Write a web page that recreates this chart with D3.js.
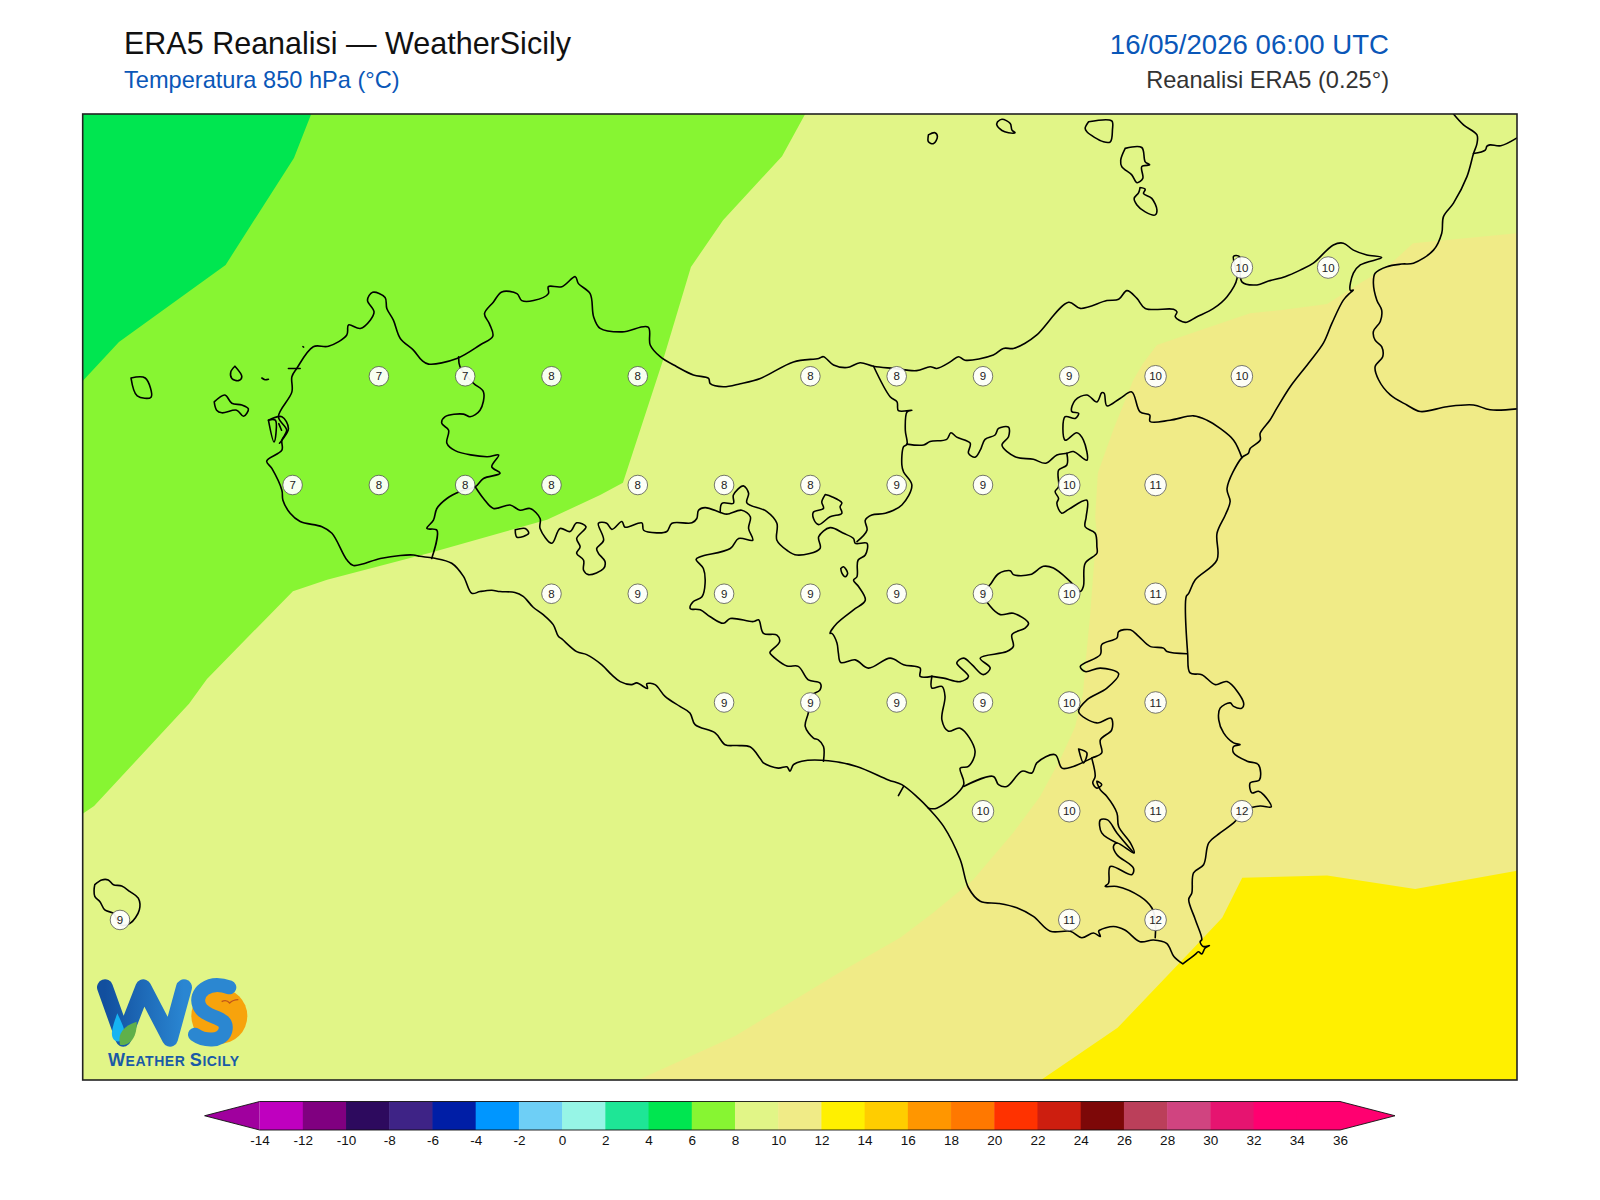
<!DOCTYPE html>
<html><head><meta charset="utf-8">
<script src="https://cdn.jsdelivr.net/npm/d3@7"></script>
<style>html,body{margin:0;padding:0;background:#fff}svg{display:block}text{font-family:"Liberation Sans",Arial,sans-serif}</style>
</head><body><svg id="c" width="1600" height="1200"></svg>
<script>
// ---- Texts
const titleMain="ERA5 Reanalisi — WeatherSicily", titleSub="Temperatura 850 hPa (°C)", titleDate="16/05/2026 06:00 UTC", titleRight="Reanalisi ERA5 (0.25°)";
// ---- Colour scale
const levels=[-14,-12,-10,-8,-6,-4,-2,0,2,4,6,8,10,12,14,16,18,20,22,24,26,28,30,32,34,36];
const levelColors=["#bf00bf","#800080","#2d0a5e","#3e2386","#001ea6","#0096ff","#6ecff6","#96f5e6","#1ee696","#00e650","#87f532","#e1f587","#f0eb87","#fff000","#ffcd00","#ff9600","#ff7800","#ff3200","#cd1e0f","#7d0808","#bb3f5a","#d04480","#e61470","#ff0070","#ff0070"];
const underColor="#a0009e", overColor="#ff0070";
// ---- Map extent (degrees)
const lonRange=[11.892,16.047], latRange=[38.603,36.382];
// ---- Point values
const row3825=[[15.25,10],[15.5,10]];
const row3800=[[12.75,7],[13,7],[13.25,8],[13.5,8],[14,8],[14.25,8],[14.5,9],[14.75,9],[15,10],[15.25,10]];
const row3775=[[12.5,7],[12.75,8],[13,8],[13.25,8],[13.5,8],[13.75,8],[14,8],[14.25,9],[14.5,9],[14.75,10],[15,11]];
const row3750=[[13.25,8],[13.5,9],[13.75,9],[14,9],[14.25,9],[14.5,9],[14.75,10],[15,11]];
const row3725=[[13.75,9],[14,9],[14.25,9],[14.5,9],[14.75,10],[15,11]];
const row3700=[[14.5,10],[14.75,10],[15,11],[15.25,12]];
const row3675=[[12,9],[14.75,11],[15,12]];
const pointRows=[[38.25,row3825],[38,row3800],[37.75,row3775],[37.5,row3750],[37.25,row3725],[37,row3700],[36.75,row3675]];
// ---- Isotherms (lon,lat)
const iso6=[[12.554,38.603],[12.504,38.502],[12.306,38.256],[11.997,38.079],[11.892,37.989]];
const iso8=[[13.985,38.603],[13.918,38.506],[13.747,38.359],[13.654,38.251],[13.573,38.037],[13.457,37.755],[13.391,37.727],[13.237,37.670],[12.907,37.596],[12.600,37.532],[12.501,37.506],[12.252,37.304],[12.200,37.247],[11.925,37.012],[11.892,36.994]];
const iso10=[[16.047,38.329],[15.746,38.306],[15.671,38.251],[15.592,38.214],[15.514,38.175],[15.497,38.166],[15.361,38.152],[15.274,38.145],[15.129,38.106],[15.004,38.072],[14.964,38.030],[14.935,37.991],[14.877,37.876],[14.833,37.778],[14.825,37.676],[14.830,37.640],[14.825,37.601],[14.810,37.447],[14.796,37.332],[14.790,37.272],[14.767,37.194],[14.723,37.118],[14.665,37.033],[14.587,36.950],[14.471,36.842],[14.355,36.766],[14.260,36.709],[14.077,36.626],[13.782,36.483],[13.501,36.382]];
const iso12=[[16.047,36.863],[15.752,36.821],[15.497,36.852],[15.251,36.847],[15.193,36.755],[15.105,36.681],[14.890,36.502],[14.668,36.382]];
// ---- Sicily coastline (lon,lat)
const coastSicily=[[15.079,36.649],[15.053,36.666],[15.032,36.696],[14.994,36.704],[14.955,36.700],[14.911,36.727],[14.878,36.735],[14.839,36.727],[14.835,36.724],[14.840,36.712],[14.820,36.720],[14.786,36.709],[14.753,36.724],[14.695,36.724],[14.646,36.758],[14.598,36.778],[14.545,36.788],[14.492,36.793],[14.458,36.824],[14.434,36.889],[14.386,36.965],[14.342,37.007],[14.313,37.030],[14.265,37.061],[14.226,37.072],[14.134,37.103],[14.052,37.116],[13.975,37.115],[13.951,37.107],[13.941,37.092],[13.932,37.102],[13.907,37.099],[13.864,37.111],[13.854,37.122],[13.825,37.148],[13.787,37.151],[13.753,37.153],[13.724,37.180],[13.666,37.199],[13.651,37.226],[13.622,37.241],[13.579,37.264],[13.550,37.291],[13.526,37.293],[13.528,37.282],[13.497,37.295],[13.482,37.291],[13.449,37.298],[13.424,37.314],[13.395,37.337],[13.352,37.360],[13.323,37.367],[13.280,37.396],[13.270,37.402],[13.255,37.429],[13.226,37.452],[13.197,37.469],[13.168,37.494],[13.144,37.503],[13.101,37.505],[13.077,37.508],[13.043,37.505],[13.019,37.501],[12.995,37.540],[12.961,37.570],[12.908,37.582],[12.869,37.586],[12.850,37.589],[12.812,37.588],[12.754,37.581],[12.676,37.565],[12.657,37.578],[12.614,37.639],[12.585,37.654],[12.522,37.666],[12.493,37.685],[12.472,37.715],[12.469,37.738],[12.440,37.788],[12.425,37.805],[12.469,37.830],[12.469,37.853],[12.483,37.876],[12.459,37.907],[12.498,37.964],[12.498,37.999],[12.512,38.018],[12.560,38.068],[12.604,38.069],[12.657,38.095],[12.662,38.118],[12.696,38.110],[12.725,38.129],[12.736,38.148],[12.717,38.175],[12.732,38.193],[12.768,38.181],[12.773,38.156],[12.792,38.129],[12.812,38.087],[12.850,38.060],[12.874,38.037],[12.894,38.028],[12.976,38.041],[13.043,38.072],[13.080,38.092],[13.070,38.121],[13.056,38.144],[13.082,38.171],[13.106,38.194],[13.150,38.190],[13.164,38.174],[13.198,38.174],[13.241,38.190],[13.241,38.206],[13.280,38.206],[13.319,38.229],[13.328,38.213],[13.362,38.190],[13.372,38.137],[13.391,38.110],[13.455,38.102],[13.530,38.113],[13.536,38.072],[13.565,38.045],[13.613,38.022],[13.661,38.003],[13.705,37.995],[13.710,37.983],[13.748,37.976],[13.797,37.983],[13.855,37.995],[13.951,38.033],[14.024,38.041],[14.038,38.045],[14.067,38.026],[14.106,38.020],[14.144,38.031],[14.183,38.023],[14.241,38.018],[14.308,38.013],[14.347,38.022],[14.366,38.018],[14.405,38.033],[14.429,38.045],[14.448,38.037],[14.530,38.049],[14.559,38.064],[14.588,38.064],[14.622,38.076],[14.656,38.095],[14.748,38.170],[14.782,38.156],[14.859,38.174],[14.893,38.177],[14.917,38.197],[14.946,38.179],[14.970,38.156],[15.052,38.154],[15.062,38.148],[15.057,38.137],[15.086,38.124],[15.120,38.137],[15.168,38.156],[15.207,38.183],[15.236,38.225],[15.226,38.276],[15.243,38.275],[15.250,38.217],[15.294,38.210],[15.327,38.219],[15.375,38.229],[15.419,38.244],[15.457,38.260],[15.515,38.302],[15.544,38.306],[15.573,38.290],[15.612,38.279],[15.655,38.273],[15.593,38.256],[15.573,38.237],[15.564,38.198],[15.573,38.198],[15.564,38.192],[15.544,38.175],[15.511,38.122],[15.486,38.076],[15.443,38.030],[15.390,37.976],[15.351,37.926],[15.332,37.900],[15.303,37.869],[15.303,37.853],[15.274,37.834],[15.269,37.823],[15.250,37.813],[15.207,37.742],[15.216,37.712],[15.202,37.681],[15.178,37.639],[15.178,37.578],[15.115,37.532],[15.096,37.501],[15.089,37.494],[15.093,37.362],[15.100,37.318],[15.134,37.314],[15.173,37.291],[15.207,37.298],[15.255,37.249],[15.250,37.237],[15.226,37.241],[15.216,37.249],[15.187,37.237],[15.183,37.210],[15.197,37.180],[15.226,37.157],[15.245,37.153],[15.226,37.149],[15.226,37.134],[15.265,37.115],[15.298,37.107],[15.301,37.072],[15.274,37.065],[15.279,37.042],[15.298,37.046],[15.314,37.037],[15.335,37.010],[15.303,37.012],[15.265,37.004],[15.226,36.973],[15.187,36.950],[15.154,36.927],[15.139,36.877],[15.110,36.858],[15.105,36.812],[15.096,36.797],[15.115,36.751],[15.134,36.705],[15.129,36.700],[15.138,36.689],[15.156,36.691],[15.143,36.685],[15.134,36.672],[15.124,36.677],[15.114,36.670],[15.079,36.649]];
const coastCalabria=[[15.863,38.603],[15.892,38.578],[15.931,38.555],[15.931,38.535],[15.921,38.512],[15.902,38.459],[15.863,38.398],[15.834,38.367],[15.829,38.329],[15.805,38.290],[15.747,38.260],[15.713,38.258],[15.670,38.252],[15.636,38.237],[15.631,38.214],[15.641,38.175],[15.655,38.152],[15.651,38.126],[15.631,38.103],[15.636,38.083],[15.655,38.068],[15.658,38.045],[15.636,38.022],[15.646,37.992],[15.680,37.957],[15.728,37.934],[15.767,37.919],[15.844,37.930],[15.921,37.934],[15.969,37.923],[16.047,37.925]];
const borderCalabria=[[15.921,38.512],[15.955,38.520],[15.960,38.529],[15.969,38.532],[16.000,38.530],[16.047,38.548]];
// ---- Province borders (lon,lat)
const borderTrapani=[[12.981,38.045],[12.985,38.022],[13.024,37.984],[13.053,37.964],[13.043,37.922],[13.014,37.907],[12.995,37.913],[12.942,37.907],[12.932,37.892],[12.952,37.876],[12.947,37.846],[12.971,37.829],[13.063,37.815],[13.097,37.819],[13.077,37.792],[13.101,37.777],[13.053,37.765],[13.029,37.746],[12.985,37.735],[12.947,37.719],[12.918,37.696],[12.908,37.669],[12.889,37.650],[12.918,37.646],[12.903,37.581]];
const borderAgrigento=[[13.029,37.746],[13.053,37.719],[13.082,37.696],[13.130,37.704],[13.159,37.692],[13.188,37.696],[13.217,37.673],[13.217,37.650],[13.251,37.616],[13.275,37.650],[13.304,37.643],[13.323,37.663],[13.350,37.654],[13.323,37.627],[13.333,37.608],[13.323,37.593],[13.343,37.577],[13.343,37.554],[13.357,37.544],[13.401,37.558],[13.405,37.574],[13.386,37.593],[13.381,37.604],[13.401,37.623],[13.386,37.662],[13.410,37.662],[13.425,37.648],[13.454,37.666],[13.463,37.653],[13.512,37.663],[13.517,37.646],[13.555,37.640],[13.584,37.643],[13.599,37.662],[13.657,37.663],[13.671,37.673],[13.676,37.692],[13.695,37.698],[13.739,37.687],[13.758,37.683],[13.801,37.692],[13.826,37.677],[13.821,37.650],[13.833,37.623],[13.792,37.627],[13.768,37.604],[13.681,37.585],[13.669,37.579],[13.690,37.558],[13.695,37.524],[13.686,37.493],[13.661,37.482],[13.652,37.466],[13.681,37.463],[13.710,37.447],[13.748,37.432],[13.768,37.443],[13.835,37.436],[13.850,37.440],[13.864,37.409],[13.903,37.405],[13.911,37.390],[13.884,37.367],[13.883,37.364],[13.932,37.334],[13.965,37.333],[13.994,37.302],[14.028,37.295],[14.028,37.279],[13.999,37.264],[13.994,37.226],[13.985,37.195],[14.009,37.168],[14.023,37.164],[14.038,37.149],[14.038,37.115]];
const borderCaltanissetta=[[13.739,37.687],[13.744,37.708],[13.777,37.708],[13.777,37.727],[13.806,37.748],[13.821,37.731],[13.816,37.709],[13.874,37.689],[13.903,37.662],[13.903,37.623],[13.932,37.600],[13.961,37.589],[14.028,37.604],[14.024,37.631],[14.057,37.652],[14.096,37.639],[14.125,37.627],[14.130,37.616],[14.164,37.616],[14.159,37.589],[14.138,37.577],[14.135,37.539],[14.125,37.531],[14.140,37.516],[14.159,37.485],[14.125,37.463],[14.077,37.432],[14.057,37.409],[14.062,37.409],[14.077,37.387],[14.081,37.364],[14.088,37.342],[14.130,37.348],[14.168,37.329],[14.231,37.352],[14.270,37.337],[14.318,37.329],[14.318,37.310],[14.352,37.310]];
const borderMessinaWest=[[14.135,37.620],[14.164,37.646],[14.159,37.669],[14.178,37.681],[14.217,37.685],[14.265,37.704],[14.294,37.750],[14.270,37.780],[14.265,37.796],[14.270,37.838],[14.280,37.844],[14.275,37.876],[14.280,37.918],[14.294,37.922],[14.255,37.921],[14.251,37.941],[14.231,37.953],[14.183,38.023]];
const borderMessinaSouth=[[14.279,37.844],[14.328,37.842],[14.347,37.850],[14.395,37.855],[14.407,37.870],[14.424,37.860],[14.463,37.846],[14.458,37.823],[14.477,37.814],[14.492,37.830],[14.506,37.855],[14.535,37.865],[14.545,37.880],[14.574,37.883],[14.574,37.861],[14.555,37.842],[14.593,37.815],[14.646,37.809],[14.682,37.800],[14.714,37.819],[14.743,37.823],[14.762,37.827],[14.801,37.807],[14.791,37.853],[14.772,37.870],[14.738,37.853],[14.738,37.907],[14.767,37.903],[14.777,37.915],[14.757,37.919],[14.767,37.945],[14.801,37.957],[14.830,37.941],[14.844,37.962],[14.851,37.961],[14.859,37.932],[14.897,37.949],[14.931,37.964],[14.955,37.918],[14.983,37.911],[14.984,37.896],[15.042,37.899],[15.110,37.909],[15.149,37.899],[15.187,37.880],[15.226,37.853],[15.250,37.813]];
const borderEnna=[[14.743,37.823],[14.743,37.796],[14.719,37.784],[14.719,37.746],[14.709,37.735],[14.719,37.719],[14.714,37.708],[14.728,37.685],[14.748,37.694],[14.801,37.715],[14.799,37.677],[14.796,37.654],[14.825,37.639],[14.830,37.608],[14.830,37.593],[14.796,37.570],[14.791,37.517],[14.782,37.505],[14.753,37.528],[14.704,37.559],[14.675,37.563],[14.637,37.544],[14.588,37.544],[14.579,37.553],[14.545,37.546],[14.521,37.521],[14.501,37.501],[14.521,37.471],[14.550,37.452],[14.588,37.455],[14.632,37.432],[14.622,37.421],[14.584,37.406],[14.588,37.379],[14.569,37.367],[14.492,37.352],[14.521,37.329],[14.501,37.314],[14.468,37.337],[14.444,37.352],[14.424,37.341],[14.458,37.310],[14.434,37.298],[14.386,37.306],[14.352,37.310]];
const borderGela=[[14.352,37.310],[14.352,37.283],[14.381,37.287],[14.390,37.264],[14.381,37.210],[14.400,37.184],[14.434,37.191],[14.477,37.138],[14.458,37.103],[14.434,37.099],[14.444,37.061],[14.366,37.007],[14.342,37.007]];
const borderCatania=[[14.444,37.057],[14.530,37.080],[14.545,37.061],[14.569,37.057],[14.613,37.092],[14.642,37.088],[14.656,37.111],[14.709,37.130],[14.729,37.099],[14.762,37.103],[14.815,37.122],[14.844,37.134],[14.840,37.164],[14.873,37.187],[14.871,37.214],[14.830,37.203],[14.777,37.229],[14.801,37.256],[14.859,37.283],[14.893,37.316],[14.840,37.329],[14.796,37.321],[14.782,37.333],[14.840,37.360],[14.844,37.383],[14.888,37.398],[14.893,37.413],[14.927,37.417],[14.951,37.402],[14.984,37.379],[15.023,37.375],[15.033,37.367],[15.091,37.362]];
const borderSiracusa=[[14.815,37.122],[14.825,37.080],[14.818,37.065],[14.830,37.053],[14.844,37.061],[14.830,37.069],[14.840,37.049],[14.859,37.034],[14.888,36.996],[14.893,36.965],[14.927,36.927],[14.938,36.904],[14.888,36.927],[14.878,36.919],[14.888,36.900],[14.936,36.869],[14.931,36.854],[14.869,36.873],[14.864,36.835],[14.854,36.827],[14.888,36.827],[14.955,36.804],[14.989,36.778],[14.999,36.751],[14.999,36.709]];
const loopIrminio=[[14.888,36.927],[14.844,36.950],[14.840,36.980],[14.861,36.980],[14.888,36.950],[14.936,36.905]];
const lakeLentini=[[14.777,37.143],[14.801,37.134],[14.791,37.111],[14.777,37.143]];
const spurGela=[[14.270,37.057],[14.255,37.036]];
// ---- Islands and enclosed shapes (lon,lat)
const isleAlicudi=[[14.342,38.555],[14.361,38.560],[14.368,38.551],[14.357,38.535],[14.342,38.539],[14.342,38.555]];
const isleFilicudi=[[14.542,38.585],[14.555,38.591],[14.579,38.581],[14.584,38.566],[14.593,38.560],[14.574,38.560],[14.555,38.565],[14.540,38.578],[14.542,38.585]];
const isleSalina=[[14.806,38.585],[14.873,38.587],[14.875,38.566],[14.869,38.539],[14.849,38.539],[14.801,38.562],[14.796,38.570],[14.806,38.585]];
const isleLipari=[[14.912,38.524],[14.960,38.526],[14.970,38.493],[14.983,38.486],[14.960,38.482],[14.963,38.455],[14.946,38.445],[14.931,38.463],[14.902,38.482],[14.899,38.497],[14.912,38.524]];
const isleVulcano=[[14.955,38.434],[14.970,38.430],[14.965,38.420],[14.989,38.409],[15.004,38.382],[14.999,38.371],[14.970,38.378],[14.946,38.394],[14.938,38.409],[14.951,38.422],[14.955,38.434]];
const isleLevanzo=[[12.333,38.023],[12.353,37.999],[12.343,37.990],[12.324,37.995],[12.321,38.010],[12.333,38.023]];
const isleFavignana=[[12.273,37.941],[12.304,37.957],[12.324,37.938],[12.353,37.934],[12.372,37.925],[12.358,37.908],[12.338,37.922],[12.295,37.916],[12.280,37.922],[12.273,37.941]];
const isleMarettimo=[[12.032,37.996],[12.073,37.996],[12.090,37.952],[12.050,37.955],[12.032,37.996]];
const isleFormica=[[12.411,37.996],[12.420,37.992],[12.430,37.993]];
const isleStagnone=[[12.430,37.899],[12.469,37.907],[12.488,37.880],[12.469,37.853],[12.462,37.846]];
const isleGrande=[[12.430,37.899],[12.446,37.849],[12.452,37.870],[12.450,37.899],[12.430,37.899]];
const stagnoneInner=[[12.460,37.891],[12.468,37.876]];
const reefTrapani=[[12.488,38.018],[12.522,38.018]];
const isletCofano=[[12.530,38.068],[12.532,38.067]];
const lakeArancio=[[13.145,37.647],[13.174,37.650],[13.184,37.639],[13.150,37.630],[13.145,37.647]];
const enclaveMadonie=[[14.043,37.728],[14.062,37.723],[14.091,37.709],[14.086,37.700],[14.091,37.685],[14.057,37.677],[14.024,37.659],[14.009,37.673],[14.009,37.688],[14.038,37.696],[14.033,37.711],[14.043,37.728]];
const lakePergusa=[[14.088,37.558],[14.096,37.562],[14.108,37.547],[14.101,37.539],[14.091,37.548],[14.088,37.558]];
const islePantelleria=[[11.927,36.831],[11.947,36.842],[11.966,36.842],[11.981,36.831],[12.005,36.828],[12.029,36.815],[12.053,36.800],[12.056,36.773],[12.029,36.742],[12.000,36.739],[11.981,36.765],[11.956,36.773],[11.942,36.792],[11.927,36.804],[11.925,36.819],[11.927,36.831]];
const mapLines=[coastSicily,coastCalabria,borderCalabria,borderTrapani,borderAgrigento,borderCaltanissetta,borderMessinaWest,borderMessinaSouth,borderEnna,borderGela,borderCatania,borderSiracusa,loopIrminio,lakeLentini,spurGela,isleAlicudi,isleFilicudi,isleSalina,isleLipari,isleVulcano,isleLevanzo,isleFavignana,isleMarettimo,isleFormica,isleStagnone,isleGrande,stagnoneInner,reefTrapani,isletCofano,lakeArancio,enclaveMadonie,lakePergusa,islePantelleria];

// ---- Drawing
const svg=d3.select("#c");
const frame={l:82.7,r:1517,t:114,b:1080};
const x=d3.scaleLinear().domain(lonRange).range([frame.l,frame.r]);
const y=d3.scaleLinear().domain(latRange).range([frame.t,frame.b]);
const geo=d3.line().x(d=>x(d[0])).y(d=>y(d[1]));
const geoSmooth=d3.line().x(d=>x(d[0])).y(d=>y(d[1])).curve(d3.curveCatmullRom.alpha(0.5));
const colorOf=d3.scaleThreshold().domain(levels.slice(1,-1)).range(levelColors);
const [W,E]=lonRange,[N,S]=latRange;

svg.append("defs").append("clipPath").attr("id","map").append("rect")
  .attr("x",frame.l).attr("y",frame.t).attr("width",frame.r-frame.l).attr("height",frame.b-frame.t);
const map=svg.append("g").attr("clip-path","url(#map)");
map.append("rect").attr("x",frame.l).attr("y",frame.t).attr("width",frame.r-frame.l).attr("height",frame.b-frame.t).attr("fill",colorOf(9));
const bands=[
  {t:7,ring:[...iso8,[W,N]]},
  {t:5,ring:[...iso6,[W,N]]},
  {t:11,ring:[...iso10,[E,S]]},
  {t:13,ring:[...iso12,[E,S]]}
];
map.selectAll("path.band").data(bands).join("path").attr("class","band")
  .attr("d",d=>geo(d.ring)+"Z").attr("fill",d=>colorOf(d.t));
map.selectAll("path.line").data(mapLines).join("path").attr("class","line")
  .attr("d",geoSmooth).attr("fill","none").attr("stroke","#000").attr("stroke-width",1.6).attr("stroke-linejoin","round").attr("stroke-linecap","round");

const points=pointRows.flatMap(([lat,row])=>row.map(([lon,v])=>({lon,lat,v})));
const pt=svg.append("g").selectAll("g").data(points).join("g").attr("transform",d=>`translate(${x(d.lon)},${y(d.lat)})`);
pt.append("circle").attr("r",d=>d.v>=10?10.8:9.8).attr("fill","#fff").attr("fill-opacity",.93).attr("stroke","#555").attr("stroke-width",.8);
pt.append("text").text(d=>d.v).attr("text-anchor","middle").attr("dy","0.36em").attr("font-size",11.5).attr("fill","#222");

// ---- Logo
const grad=svg.select("defs").append("linearGradient").attr("id","wg").attr("x1",0).attr("x2",1).attr("y1",0).attr("y2",0);
grad.append("stop").attr("offset",0).attr("stop-color","#124f9e");
grad.append("stop").attr("offset",1).attr("stop-color","#2a86d2");
const logo=svg.append("g").attr("transform","translate(80,950) scale(0.3333)");
logo.append("path").attr("d","M75,112 L130,266 L190,112 L270,266 L312,112").attr("fill","none").attr("stroke","url(#wg)").attr("stroke-width",48).attr("stroke-linejoin","round").attr("stroke-linecap","round");
logo.append("path").attr("d","M112,190 C128,225 138,240 130,262 C120,285 92,275 96,245 C98,228 105,210 112,190Z").attr("fill","#16b4f2");
logo.append("path").attr("d","M170,215 C172,260 150,290 120,284 C112,250 130,228 170,215Z").attr("fill","#5fb04a");
logo.append("circle").attr("cx",418).attr("cy",198).attr("r",84).attr("fill","#f7a30c");
logo.append("path").attr("d","M448,112 C385,89 342,129 358,167 C375,209 448,194 436,242 C425,279 370,272 345,254").attr("fill","none").attr("stroke","#2b87d1").attr("stroke-width",42).attr("stroke-linecap","round");
logo.append("path").attr("d","M425,155 q14,-8 24,4 q10,-10 26,-10").attr("fill","none").attr("stroke","#c0561a").attr("stroke-width",4);
const lt=svg.append("text").attr("x",108).attr("y",1066).attr("fill","#1a5aa6").attr("font-weight","bold").attr("letter-spacing",0.55);
[["W",18],["EATHER ",14],["S",18],["ICILY",14]].forEach(([s,z])=>lt.append("tspan").text(s).attr("font-size",z));

// ---- Titles
const tx=(s,xp,yp,size,col,anchor)=>svg.append("text").text(s).attr("x",xp).attr("y",yp).attr("font-size",size).attr("fill",col).attr("text-anchor",anchor||"start");
tx(titleMain,124,54,30.5,"#111");
tx(titleSub,124,88,23.6,"#0a57b8");
tx(titleDate,1389,54,27.6,"#0a57b8","end");
tx(titleRight,1389,88,23.6,"#333","end");

// ---- Frame
svg.append("rect").attr("x",frame.l).attr("y",frame.t).attr("width",frame.r-frame.l).attr("height",frame.b-frame.t).attr("fill","none").attr("stroke","#222").attr("stroke-width",1.6);

// ---- Colour bar
const cb=d3.scaleLinear().domain([levels[0],levels[levels.length-1]]).range([259.6,1340]);
const cy0=1101.5,cy1=1130,cym=(cy0+cy1)/2,tip=55;
const bar=svg.append("g");
bar.selectAll("rect").data(levelColors).join("rect").attr("x",(d,i)=>cb(levels[i])).attr("y",cy0).attr("width",(d,i)=>cb(levels[i+1])-cb(levels[i])+.5).attr("height",cy1-cy0).attr("fill",d=>d);
bar.append("path").attr("d",`M${cb.range()[0]},${cy0}L${cb.range()[0]-tip},${cym}L${cb.range()[0]},${cy1}Z`).attr("fill",underColor);
bar.append("path").attr("d",`M${cb.range()[1]},${cy0}L${cb.range()[1]+tip},${cym}L${cb.range()[1]},${cy1}Z`).attr("fill",overColor);
bar.append("path").attr("d",`M${cb.range()[0]},${cy0}L${cb.range()[1]},${cy0}L${cb.range()[1]+tip},${cym}L${cb.range()[1]},${cy1}L${cb.range()[0]},${cy1}L${cb.range()[0]-tip},${cym}Z`).attr("fill","none").attr("stroke","#111").attr("stroke-width",.9);
const ax=svg.append("g").attr("transform",`translate(0,${cy1})`).call(d3.axisBottom(cb).tickValues(levels).tickFormat(d=>String(d)).tickSize(0).tickPadding(5));
ax.select(".domain").remove();
ax.selectAll("text").attr("font-size",13.5).attr("fill","#111").style("font-family",'"Liberation Sans",Arial,sans-serif');
</script></body></html>
